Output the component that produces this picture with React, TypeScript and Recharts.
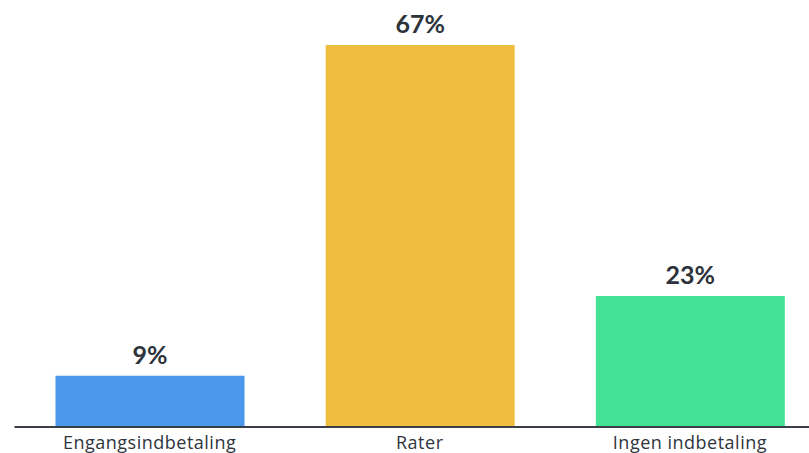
import React from 'react';
import { BarChart, Bar, XAxis, YAxis, Cell, LabelList } from 'recharts';

const categories = ['Engangsindbetaling', 'Rater', 'Ingen indbetaling'];
const values = [9, 67, 23];
const colors = ['#4a98eb', '#f0be3f', '#44e294'];

const data = categories.map((name, i) => ({ name, value: values[i] }));

const FONT = 'Lato, "Open Sans", sans-serif';
const TICK_FONT = '"Open Sans", sans-serif';

const Tick = (props: any) => {
  const { x, y, payload } = props;
  return (
    <text x={x} y={y} dy={14} textAnchor="middle" fill="#2f353d" fontSize={18} letterSpacing={0.5} fontFamily={TICK_FONT}>
      {payload.value}
    </text>
  );
};

export default function App() {
  return (
    <div style={{ position: 'absolute', left: 0, top: 0, width: 809, height: 453, overflow: 'hidden', background: '#fff' }}>
      <BarChart width={825} height={453} data={data} margin={{ top: 28, right: 0, left: 14.5, bottom: 0 }} barSize={189}>
        <YAxis hide domain={[0, 70]} />
        <XAxis
          dataKey="name"
          height={26}
          tickLine={false}
          axisLine={{ stroke: '#3a3f47', strokeWidth: 2 }}
          tick={<Tick />}
          interval={0}
        />
        <Bar dataKey="value" isAnimationActive={false}>
          {data.map((d, i) => (
            <Cell key={d.name} fill={colors[i]} />
          ))}
          <LabelList
            dataKey="value"
            position="top"
            offset={12}
            formatter={(v: any) => `${v}%`}
            style={{ fontFamily: FONT, fontSize: 25, fontWeight: 700, fill: '#2d333b' }}
          />
        </Bar>
      </BarChart>
    </div>
  );
}
